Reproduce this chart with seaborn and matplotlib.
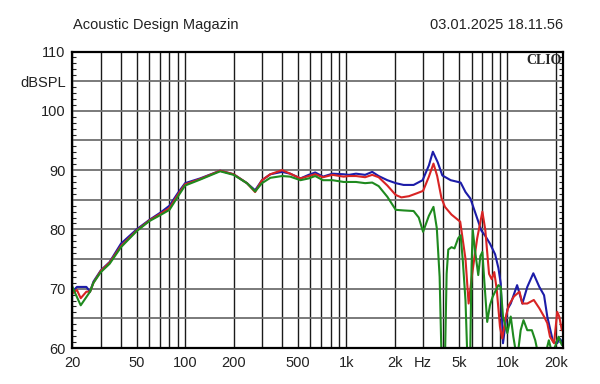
import matplotlib
matplotlib.use('Agg')
import matplotlib.pyplot as plt
from matplotlib.ticker import FixedLocator, LogLocator, MultipleLocator, NullFormatter
import seaborn as sns

# frequency response curves (Hz, dB SPL)
freq_blue = [20, 21.3, 22.5, 24.4, 25.7, 27, 30, 34, 40, 50, 60, 70, 80, 90, 100, 124, 165, 200,
             242, 272, 300, 338, 400, 449, 520, 585, 642, 718, 822, 964, 1040, 1150, 1310, 1450,
             1590, 1800, 2030, 2270, 2620, 2980, 3260, 3450, 3700, 3950, 4450, 5130, 5500, 5900,
             6400, 6900, 7300, 7800, 8400, 8800, 9100, 9400, 10000, 10500, 11500, 12400, 13300,
             14500, 15800, 16900, 17700, 19200, 20400, 21100, 22000]
spl_blue = [69.5, 70.3, 70.3, 70.3, 69.5, 71.2, 73.1, 74.5, 77.6, 80.0, 81.6, 82.8, 84.0, 86.1, 87.8,
            88.6, 89.9, 89.3, 87.8, 86.6, 88.3, 89.3, 89.7, 89.4, 88.6, 89.2, 89.6, 88.9, 89.4, 89.3,
            89.2, 89.4, 89.2, 89.7, 89.0, 88.3, 87.8, 87.5, 87.5, 88.3, 90.8, 93.1, 91.3, 89.1, 88.3,
            87.9, 86.3, 85.2, 82.4, 79.8, 78.9, 77.6, 75.8, 73.5, 70.9, 60.8, 66.5, 67.5, 70.6, 67.5,
            70.3, 72.6, 70.3, 68.9, 65.3, 61.1, 60.8, 61.6, 61.0]

freq_red = [20, 21.3, 22.5, 24.4, 25.7, 27, 30, 34, 40, 50, 60, 70, 80, 90, 100, 124, 165, 200,
            242, 272, 300, 338, 400, 449, 520, 585, 642, 718, 822, 964, 1040, 1150, 1310, 1450,
            1590, 1800, 2030, 2200, 2450, 2750, 3000, 3260, 3480, 3670, 3900, 4100, 4500, 5100,
            5500, 5750, 6050, 6500, 7000, 7300, 7700, 8000, 8300, 8600, 9000, 9300, 9800, 10200,
            11000, 11900, 12400, 13300, 14600, 15800, 16900, 17700, 18400, 19500, 20400, 21000, 21800]
spl_red = [69.2, 69.8, 68.4, 69.5, 69.5, 71.0, 73.0, 74.4, 77.2, 79.8, 81.5, 82.6, 83.6, 85.8, 87.6,
           88.5, 89.9, 89.3, 87.8, 86.3, 88.3, 89.3, 90.0, 89.4, 88.6, 89.0, 89.3, 88.8, 89.2, 88.9,
           89.0, 89.0, 88.8, 89.2, 88.8, 87.4, 85.8, 85.4, 85.6, 86.1, 86.5, 88.9, 91.1, 89.0, 85.3,
           83.8, 82.5, 81.3, 75.0, 67.5, 72.5, 78.5, 83.0, 79.9, 72.5, 71.6, 72.8, 69.8, 63.6, 61.6,
           65.3, 67.2, 68.7, 69.5, 67.5, 67.5, 68.1, 66.7, 65.3, 64.2, 61.9, 60.8, 66.1, 65.3, 63.0]

freq_green = [20, 21.3, 22.5, 24.4, 25.7, 27, 30, 34, 40, 50, 60, 70, 80, 90, 100, 124, 165, 200,
              242, 272, 300, 338, 400, 449, 520, 585, 642, 718, 822, 964, 1150, 1310, 1450, 1590,
              1800, 2030, 2270, 2620, 2820, 3000, 3260, 3480, 3650, 3800, 3930, 4100, 4200, 4300,
              4500, 4700, 4950, 5130, 5300, 5500, 5700, 5850, 6000, 6100, 6300, 6600, 6800, 7000,
              7200, 7500, 7800, 8100, 8400, 8800, 9100, 9400, 10000, 10500, 10900, 11500, 12100,
              12600, 13300, 14200, 14900, 15800, 16900, 18100, 19000, 20000, 20800, 21800]
spl_green = [70.3, 68.6, 67.2, 68.6, 69.5, 71.0, 72.8, 74.2, 77.0, 79.7, 81.4, 82.4, 83.3, 85.5, 87.4,
             88.4, 89.8, 89.2, 87.8, 86.4, 87.8, 88.7, 89.0, 88.9, 88.3, 88.6, 89.0, 88.3, 88.3, 88.0,
             88.0, 87.8, 87.9, 87.3, 85.5, 83.3, 83.2, 83.1, 82.0, 79.6, 82.3, 83.8, 80.2, 72.0, 55.0,
             58.0, 72.5, 76.6, 77.0, 76.8, 78.5, 79.0, 74.5, 68.0, 55.0, 55.0, 74.0, 79.9, 76.5, 72.3,
             75.5, 76.2, 71.2, 64.4, 67.2, 68.6, 69.5, 70.6, 70.3, 65.3, 62.5, 65.3, 61.9, 58.0, 63.0,
             64.7, 63.0, 63.0, 61.3, 58.0, 58.0, 61.3, 59.0, 60.6, 61.9, 60.5]

xtick_pos = [20, 50, 100, 200, 500, 1000, 2000, 3000, 5000, 10000, 20000]
xtick_labels = ['20', '50', '100', '200', '500', '1k', '2k', 'Hz', '5k', '10k', '20k']
ytick_pos = [60, 65, 70, 75, 80, 85, 90, 95, 100, 105, 110]
ytick_labels = ['60', '', '70', '', '80', '', '90', '', '100', 'dBSPL', '110']

sns.set_style('white')
plt.rcParams['font.family'] = ['Liberation Sans', 'DejaVu Sans']

fig = plt.figure(figsize=(6, 3.84), dpi=100)
ax = fig.add_axes([0.1208, 0.09375, 0.8167, 0.7721])

sns.lineplot(x=freq_blue, y=spl_blue, color='#1c1ca8', lw=1.5, estimator=None, sort=False, ax=ax)
sns.lineplot(x=freq_red, y=spl_red, color='#d82424', lw=1.5, estimator=None, sort=False, ax=ax)
sns.lineplot(x=freq_green, y=spl_green, color='#1f8a1f', lw=1.5, estimator=None, sort=False, ax=ax)

ax.set_xscale('log')
ax.set_xlim(20, 22000)
ax.set_ylim(60, 110)

ax.xaxis.set_major_locator(FixedLocator(xtick_pos))
ax.set_xticklabels(xtick_labels)
ax.xaxis.set_minor_locator(LogLocator(base=10, subs=range(1, 10)))
ax.xaxis.set_minor_formatter(NullFormatter())
ax.yaxis.set_major_locator(FixedLocator(ytick_pos))
ax.set_yticklabels(ytick_labels)
ax.yaxis.set_minor_locator(MultipleLocator(1))

ax.tick_params(axis='x', which='both', length=0, pad=6, labelsize=10.5, labelcolor='#222222')
ax.tick_params(axis='y', which='major', length=0, pad=5, labelsize=10.5, labelcolor='#222222')
ax.tick_params(axis='y', which='minor', direction='in', length=3, width=0.8,
               left=True, right=True, color='#222222')

ax.grid(True, axis='x', which='both', color='#1a1a1a', lw=1.0)
ax.grid(True, axis='y', which='major', color='#707070', lw=1.3)
ax.set_axisbelow(True)

for side in ax.spines.values():
    side.set_color('black')
    side.set_linewidth(1.6)

ax.set_xlabel('')
ax.set_ylabel('')

ax.text(0.998, 0.99, 'CLIO', transform=ax.transAxes, ha='right', va='top',
        fontsize=10, fontweight='bold', family=['Liberation Serif', 'DejaVu Serif'])

fig.text(0.122, 0.935, 'Acoustic Design Magazin', ha='left', va='center', fontsize=10.5, color='#222222')
fig.text(0.938, 0.935, '03.01.2025 18.11.56', ha='right', va='center', fontsize=10.5, color='#222222')

fig.savefig('out.png', dpi=100)
